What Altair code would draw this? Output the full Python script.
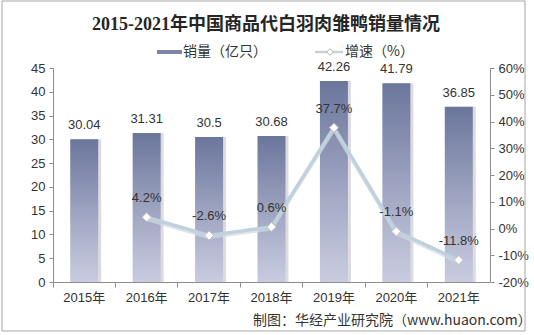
import altair as alt
import pandas as pd

# Sales of commercial white-feather meat ducklings, 2015-2021
years = ["2015年", "2016年", "2017年", "2018年", "2019年", "2020年", "2021年"]
sales = [30.04, 31.31, 30.5, 30.68, 42.26, 41.79, 36.85]          # 亿只
growth = [None, 4.2, -2.6, 0.6, 37.7, -1.1, -11.8]                # %

title_text = "2015-2021年中国商品代白羽肉雏鸭销量情况"
legend_bar = "销量（亿只）"
legend_line = "增速（%）"
source_text = "制图：华经产业研究院（www.huaon.com）"

df = pd.DataFrame({"year": years, "sales": sales, "growth": growth})

FONT = "Liberation Sans, Arial, Noto Sans CJK SC"
CJK = "Noto Sans CJK SC, Liberation Sans"
W, H = 437, 214

x_enc = alt.X(
    "year:N",
    sort=years,
    scale=alt.Scale(paddingInner=0, paddingOuter=0),
    axis=alt.Axis(
        title=None, labelAngle=0, labelFontSize=13, labelColor="#333333",
        labelFont=FONT, labelPadding=4, bandPosition=0, tickSize=5,
        domainColor="#8c8c8c", tickColor="#8c8c8c",
    ),
)

bar_fill = alt.Gradient(
    gradient="linear", x1=0, x2=0, y1=0, y2=1,
    stops=[alt.GradientStop(color="#6b769c", offset=0),
           alt.GradientStop(color="#a6abc6", offset=0.6),
           alt.GradientStop(color="#c9cce0", offset=1)],
)

y_left = alt.Y(
    "sales:Q",
    scale=alt.Scale(domain=[0, 45], nice=False),
    axis=alt.Axis(
        title=None, values=list(range(0, 50, 5)), grid=False, labelFontSize=13,
        labelColor="#333333", labelFont=FONT, tickSize=4, labelPadding=4,
        domainColor="#8c8c8c", tickColor="#8c8c8c",
    ),
)

base = alt.Chart(df)

bar_shadow = base.mark_bar(size=28, xOffset=3, color="#d3d3d8", opacity=0.8).encode(x=x_enc, y=y_left)
bars = base.mark_bar(size=28, fill=bar_fill).encode(x=x_enc, y=y_left)
bar_labels = base.transform_calculate(lbl="'' + datum.sales").mark_text(
    baseline="bottom", dy=-7, fontSize=13, font=FONT, color="#333333"
).encode(x=x_enc, y=y_left, text="lbl:N")

left = alt.layer(bar_shadow, bars, bar_labels)

y_right = alt.Y(
    "growth:Q",
    scale=alt.Scale(domain=[-20, 60], nice=False),
    axis=alt.Axis(
        title=None, orient="right", values=list(range(-20, 70, 10)), grid=False,
        labelFontSize=13, labelColor="#333333", labelFont=FONT, tickSize=4,
        labelPadding=4, labelExpr="datum.value + '%'",
        domainColor="#8c8c8c", tickColor="#8c8c8c",
    ),
)

gbase = base.transform_filter("isValid(datum.growth)")
line_shadow = gbase.mark_line(color="#d6d9de", strokeWidth=3.5, yOffset=2, opacity=0.7).encode(x=x_enc, y=y_right)
line = gbase.mark_line(color="#bdd1de", strokeWidth=3.5).encode(x=x_enc, y=y_right)
points = gbase.mark_point(
    shape="diamond", filled=True, fill="white", stroke="#c4c4c4", strokeWidth=1, size=80, opacity=1
).encode(x=x_enc, y=y_right)
point_labels = gbase.transform_calculate(lbl="'' + datum.growth + '%'").mark_text(
    baseline="bottom", dy=-12, fontSize=13, font=FONT, color="#333333"
).encode(x=x_enc, y=y_right, text="lbl:N")

right = alt.layer(line_shadow, line, points, point_labels)

# Decorations placed in pixel space relative to the plot area
frame = alt.Chart(pd.DataFrame({"k": [0]})).mark_rect(
    fill="transparent", stroke="#a6a6a6", strokeWidth=1
).encode(x=alt.value(-51), x2=alt.value(472), y=alt.value(-67), y2=alt.value(263))

title = alt.Chart(pd.DataFrame({"t": [title_text]})).mark_text(
    font="Liberation Serif, Noto Sans CJK SC", fontSize=18, fontWeight="bold",
    color="#262626", align="center", baseline="middle",
).encode(x=alt.value(213), y=alt.value(-43), text="t:N")

leg_bar_sw = alt.Chart(pd.DataFrame({"k": [0]})).mark_rect(color="#7d86a6").encode(
    x=alt.value(104), x2=alt.value(129), y=alt.value(-18), y2=alt.value(-14)
)
leg_bar_tx = alt.Chart(pd.DataFrame({"t": [legend_bar]})).mark_text(
    font=CJK, fontSize=14, color="#333333", align="left", baseline="middle"
).encode(x=alt.value(130), y=alt.value(-16), text="t:N")
leg_line_sw = alt.Chart(pd.DataFrame({"k": [0]})).mark_rule(color="#c8d2da", strokeWidth=2.5).encode(
    x=alt.value(262), x2=alt.value(290), y=alt.value(-16)
)
leg_line_pt = alt.Chart(pd.DataFrame({"k": [0]})).mark_point(
    shape="diamond", filled=True, fill="white", stroke="#b5b5b5", strokeWidth=1, size=45, opacity=1
).encode(x=alt.value(277), y=alt.value(-16))
leg_line_tx = alt.Chart(pd.DataFrame({"t": [legend_line]})).mark_text(
    font=CJK, fontSize=14, color="#333333", align="left", baseline="middle"
).encode(x=alt.value(292), y=alt.value(-16), text="t:N")

source = alt.Chart(pd.DataFrame({"t": [source_text]})).mark_text(
    font=CJK, fontSize=14, color="#333333", align="left", baseline="middle"
).encode(x=alt.value(200), y=alt.value(253), text="t:N")

deco = alt.layer(frame, title, leg_bar_sw, leg_bar_tx, leg_line_sw, leg_line_pt, leg_line_tx, source)

chart = (
    alt.layer(alt.layer(left, deco), right)
    .resolve_scale(y="independent")
    .properties(
        width=W, height=H,
        autosize=alt.AutoSizeParams(type="none"),
        padding={"left": 53, "top": 68, "right": 44, "bottom": 53},
        background="white",
    )
    .configure_view(stroke=None)
)

chart.save("out.html", embed_options={"renderer": "svg", "actions": False})
